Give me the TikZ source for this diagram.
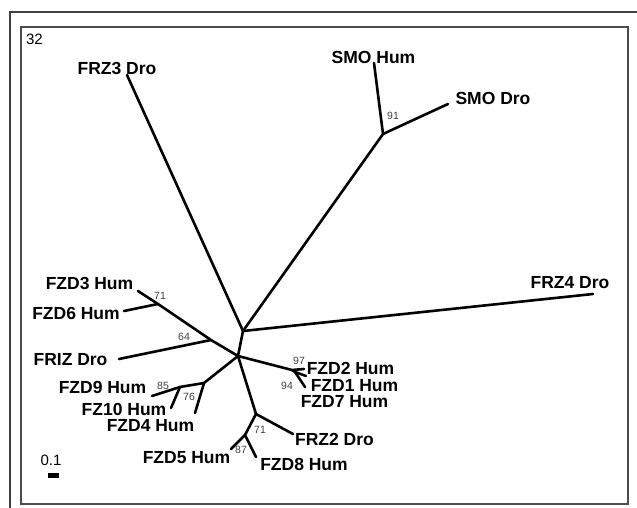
\documentclass[tikz,border=0pt]{standalone}
\usepackage{fontspec}
\setmainfont{Liberation Sans}

\begin{document}
\begin{tikzpicture}[x=1pt,y=-1pt,
  br/.style={line width=2.6pt,line cap=round,line join=round},
  lab/.style={font=\fontsize{17.5}{18}\selectfont\bfseries,inner sep=0pt},
  boot/.style={font=\fontsize{10.5}{11}\selectfont,text=black!75,inner sep=0pt}]
\useasboundingbox (0,0) rectangle (637,508);
\draw[line width=1.5pt,black!75] (10,515)--(10,12)--(645,12);
\draw[line width=1.5pt,black!70] (21,27) rectangle (628,504);
% tree nodes
\coordinate (ca) at (243,331);\coordinate (cb) at (238,356);
\coordinate (smo) at (383,134);
\coordinate (j71a) at (158,304);\coordinate (j64) at (211,340);
\coordinate (j9) at (204,383);\coordinate (j76) at (180,387);
\coordinate (j97) at (292,370);\coordinate (j94) at (295,372);
\coordinate (j71b) at (256,414);\coordinate (j87) at (245,435);
% tips
\coordinate (tfrz3) at (127,75);\coordinate (tsmoh) at (374,63);
\coordinate (tsmod) at (448,104);\coordinate (tfrz4) at (593,294);
\coordinate (tfzd3) at (138,291);\coordinate (tfzd6) at (124,311);
\coordinate (tfriz) at (119,359);
\coordinate (tfzd9) at (152,396);\coordinate (tfz10) at (171,408);
\coordinate (tfzd4) at (195,413);
\coordinate (tfzd2) at (304,369);\coordinate (tfzd1) at (306,376);
\coordinate (tfzd7) at (305,387);
\coordinate (tfrz2) at (293,434);\coordinate (tfzd5) at (231,449);
\coordinate (tfzd8) at (256,457);
% branches
\draw[br] (tfrz3)--(ca)--(tfrz4);
\draw[br] (ca)--(smo)--(tsmoh);\draw[br] (smo)--(tsmod);
\draw[br] (ca)--(cb);
\draw[br] (cb)--(j64)--(j71a)--(tfzd3);\draw[br] (j71a)--(tfzd6);
\draw[br] (j64)--(tfriz);
\draw[br] (cb)--(j9)--(j76)--(tfzd9);\draw[br] (j76)--(tfz10);
\draw[br] (j9)--(tfzd4);
\draw[br] (cb)--(j97)--(tfzd2);\draw[br] (j97)--(j94)--(tfzd1);
\draw[br] (j94)--(tfzd7);
\draw[br] (cb)--(j71b)--(tfrz2);\draw[br] (j71b)--(j87)--(tfzd5);
\draw[br] (j87)--(tfzd8);
% labels
\node[font=\fontsize{15}{16}\selectfont] (num) at (34.5,39) {32};
\node[lab] (lfrz3) at (117,68) {FRZ3 Dro};
\node[lab] (lsmoh) at (373.5,57) {SMO Hum};
\node[lab] (lsmod) at (493,98) {SMO Dro};
\node[lab] (lfrz4) at (570,283) {FRZ4 Dro};
\node[lab] (lfzd3) at (89.5,283) {FZD3 Hum};
\node[lab] (lfzd6) at (76,313) {FZD6 Hum};
\node[lab] (lfriz) at (70.5,360) {FRIZ Dro};
\node[lab] (lfzd9) at (102.5,387) {FZD9 Hum};
\node[lab] (lfz10) at (124,409) {FZ10 Hum};
\node[lab] (lfzd4) at (150.5,426) {FZD4 Hum};
\node[lab] (lfzd5) at (186.5,458) {FZD5 Hum};
\node[lab] (lfzd8) at (304,464) {FZD8 Hum};
\node[lab] (lfrz2) at (334.5,439) {FRZ2 Dro};
\node[lab] (lfzd2) at (350.5,368) {FZD2 Hum};
\node[lab] (lfzd1) at (354.5,386) {FZD1 Hum};
\node[lab] (lfzd7) at (344.5,402) {FZD7 Hum};
% bootstrap values
\node[boot] (b91) at (393,116) {91};
\node[boot] (b71a) at (160,296) {71};
\node[boot] (b64) at (184,337) {64};
\node[boot] (b85) at (163,386) {85};
\node[boot] (b76) at (189,397) {76};
\node[boot] (b97) at (299,361) {97};
\node[boot] (b94) at (287,386) {94};
\node[boot] (b71b) at (260,430) {71};
\node[boot] (b87) at (241,450) {87};
% scale
\node[font=\fontsize{15}{16}\selectfont] (sc) at (51,460) {0.1};
\fill (48,473) rectangle (59,478);
\end{tikzpicture}
\end{document}
